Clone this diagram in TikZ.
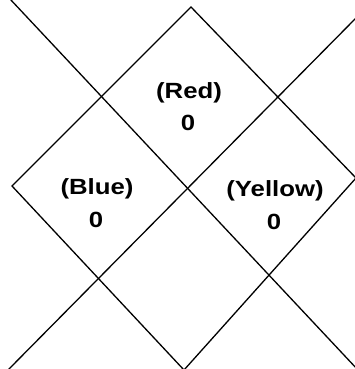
\documentclass[tikz,border=0pt]{standalone}
\usepackage{fontspec}
\setmainfont{Liberation Sans}
\usepackage{graphicx}
\begin{document}
\begin{tikzpicture}[x=1pt,y=-1pt,
  edge/.style={line width=1.3pt, line join=miter},
  lbl/.style={font=\fontsize{22}{25}\selectfont\bfseries, inner sep=0pt}]
\useasboundingbox (0,0) rectangle (354,369);
% outer diamond
\coordinate (T) at (191,7);
\coordinate (L) at (12,186);
\coordinate (B) at (184,370);
\coordinate (R) at (356,178);
\draw[edge] (L) -- (T) -- (R) -- (B) -- cycle;
% crossing lines
\coordinate (a1) at (10,-1);
\coordinate (a2) at (358,370);
\coordinate (b1) at (356,18);
\coordinate (b2) at (8,370);
\draw[edge] (a1) -- (a2);
\draw[edge] (b1) -- (b2);
% labels
\node[lbl] (redname) at (189,93) {\scalebox{1.17}[1]{(Red)}};
\node[lbl] (redval) at (188,123) {\scalebox{1.17}[1]{0}};
\node[lbl] (bluename) at (97,189) {\scalebox{1.17}[1]{(Blue)}};
\node[lbl] (blueval) at (96,220) {\scalebox{1.17}[1]{0}};
\node[lbl] (yellowname) at (275,191) {\scalebox{1.17}[1]{(Yellow)}};
\node[lbl] (yellowval) at (274,222) {\scalebox{1.17}[1]{0}};
\end{tikzpicture}
\end{document}
